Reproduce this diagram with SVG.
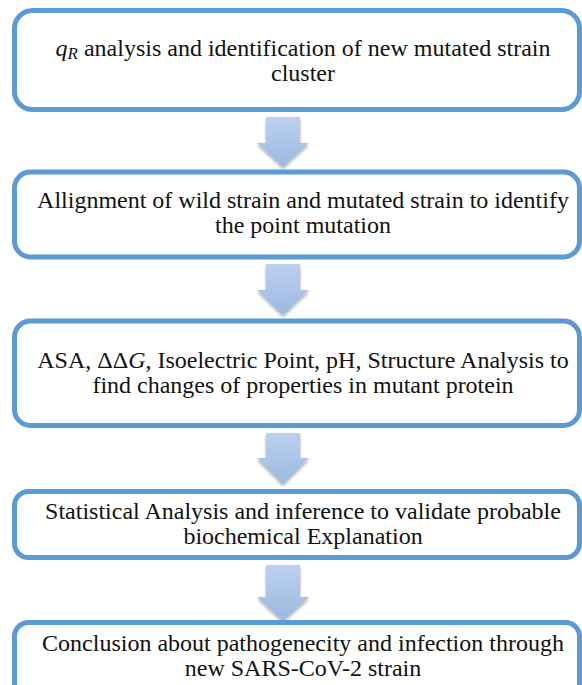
<svg xmlns="http://www.w3.org/2000/svg" width="582" height="685" viewBox="0 0 582 685">
<defs>
<style>
.box{fill:#fff;stroke:#5B9BD5;stroke-width:5}
.t{font-family:'Liberation Serif','Times New Roman',serif;font-size:24px;fill:#111;text-anchor:middle}
.i{font-style:italic}
.arr{fill:url(#ag);filter:url(#sh)}
</style>
<linearGradient id="ag" x1="0" y1="0" x2="0" y2="1">
<stop offset="0" stop-color="#BCD1EE"/>
<stop offset="1" stop-color="#9BB8E0"/>
</linearGradient>
<filter id="sh" x="-30%" y="-20%" width="160%" height="150%">
<feGaussianBlur in="SourceAlpha" stdDeviation="1.5"/>
<feOffset dx="0" dy="2" result="b"/>
<feComponentTransfer><feFuncA type="linear" slope="0.35"/></feComponentTransfer>
<feMerge><feMergeNode/><feMergeNode in="SourceGraphic"/></feMerge>
</filter>
</defs>
<rect width="582" height="685" fill="#fff"/>
<g id="connectors">
<path class="arr" d="M266,117 H300 V143 H309 L283,167 L257,143 H266 Z"/>
<path class="arr" d="M266,264 H300 V290 H309 L283,315 L257,290 H266 Z"/>
<path class="arr" d="M266,433 H300 V458 H309 L283,484 L257,458 H266 Z"/>
<path class="arr" d="M266,565 H300 V597 H309 L283,621 L257,597 H266 Z"/>
</g>
<g id="node1">
<rect class="box" x="14.5" y="10.5" width="565" height="99" rx="18"/>
<text class="t" x="303" y="56"><tspan class="i">q</tspan><tspan class="i" font-size="17" dy="3">R</tspan><tspan dy="-3"> analysis and identification of new mutated strain</tspan></text>
<text class="t" x="303" y="81">cluster</text>
</g>
<g id="node2">
<rect class="box" x="14.5" y="172" width="565" height="85" rx="16"/>
<text class="t" x="303" y="208">Allignment of wild strain and mutated strain to identify</text>
<text class="t" x="303" y="233">the point mutation</text>
</g>
<g id="node3">
<rect class="box" x="14.5" y="321" width="565" height="104.5" rx="16"/>
<text class="t" x="303" y="368">ASA, ΔΔ<tspan class="i">G</tspan>, Isoelectric Point, pH, Structure Analysis to</text>
<text class="t" x="303" y="393">find changes of properties in mutant protein</text>
</g>
<g id="node4">
<rect class="box" x="14.5" y="491.5" width="565" height="66" rx="14"/>
<text class="t" x="303" y="519">Statistical Analysis and inference to validate probable</text>
<text class="t" x="303" y="544">biochemical Explanation</text>
</g>
<g id="node5">
<rect class="box" x="14.5" y="622.5" width="565" height="100" rx="14"/>
<text class="t" x="303" y="651">Conclusion about pathogenecity and infection through</text>
<text class="t" x="303" y="676">new SARS-CoV-2 strain</text>
</g>
</svg>
